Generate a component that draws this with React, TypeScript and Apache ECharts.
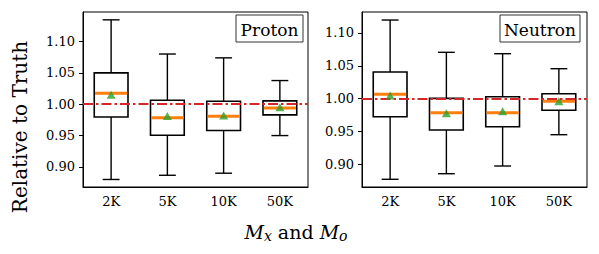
import React, { useEffect, useRef } from 'react';
import * as echarts from 'echarts';

const categories = ['2K', '5K', '10K', '50K'];
// each row: [lower whisker, Q1, median, Q3, upper whisker]
const protonBoxes = [
  [0.880, 0.9797, 1.0176, 1.050, 1.1345],
  [0.8867, 0.9505, 0.9786, 1.0064, 1.080],
  [0.890, 0.958, 0.9808, 1.0048, 1.0739],
  [0.950, 0.983, 0.994, 1.0053, 1.0377],
];
const protonMeans = [1.015, 0.981, 0.982, 0.995];
const neutronBoxes = [
  [0.8775, 0.9726, 1.0067, 1.0406, 1.1196],
  [0.886, 0.9524, 0.9787, 1.0005, 1.0705],
  [0.8977, 0.9574, 0.9787, 1.003, 1.0684],
  [0.9453, 0.9824, 0.996, 1.0076, 1.0456],
];
const neutronMeans = [1.005, 0.978, 0.981, 0.996];
const yTicks = [0.9, 0.95, 1.0, 1.05, 1.1];
const refValue = 1.0;
const panelTitles = ['Proton', 'Neutron'];

const FONT = 'DejaVu Serif';

function boxSeries(boxes: number[][], idx: number) {
  return {
    type: 'custom',
    xAxisIndex: idx,
    yAxisIndex: idx,
    z: 2,
    data: boxes.map((b, i) => [i, ...b]),
    encode: { x: 0, y: [1, 2, 3, 4, 5] },
    renderItem: (params: any, api: any) => {
      const x = api.value(0);
      const pLow = api.coord([x, api.value(1)]);
      const pQ1 = api.coord([x, api.value(2)]);
      const pMed = api.coord([x, api.value(3)]);
      const pQ3 = api.coord([x, api.value(4)]);
      const pHigh = api.coord([x, api.value(5)]);
      const band = api.size([1, 0])[0];
      const bw = band * 0.6;
      const cw = band * 0.3;
      const cx = pLow[0];
      const ls = { stroke: '#000', lineWidth: 1.4, fill: 'none' };
      return {
        type: 'group',
        children: [
          { type: 'line', shape: { x1: cx, y1: pLow[1], x2: cx, y2: pQ1[1] }, style: ls },
          { type: 'line', shape: { x1: cx, y1: pQ3[1], x2: cx, y2: pHigh[1] }, style: ls },
          { type: 'line', shape: { x1: cx - cw / 2, y1: pLow[1], x2: cx + cw / 2, y2: pLow[1] }, style: ls },
          { type: 'line', shape: { x1: cx - cw / 2, y1: pHigh[1], x2: cx + cw / 2, y2: pHigh[1] }, style: ls },
          {
            type: 'rect',
            shape: { x: cx - bw / 2, y: pQ3[1], width: bw, height: pQ1[1] - pQ3[1] },
            style: { stroke: '#000', lineWidth: 1.6, fill: '#fff' },
          },
          {
            type: 'line',
            shape: { x1: cx - bw / 2 + 0.8, y1: pMed[1], x2: cx + bw / 2 - 0.8, y2: pMed[1] },
            style: { stroke: '#ff7f0e', lineWidth: 3 },
          },
        ],
      };
    },
  };
}

function meanSeries(means: number[], idx: number) {
  return {
    type: 'scatter',
    xAxisIndex: idx,
    yAxisIndex: idx,
    z: 5,
    symbol: 'triangle',
    symbolSize: [9, 8],
    itemStyle: { color: '#2ca02c' },
    data: means.map((m, i) => [i, m]),
  };
}

function refSeries(idx: number) {
  return {
    type: 'line',
    xAxisIndex: idx,
    yAxisIndex: idx,
    z: 4,
    data: [],
    markLine: {
      silent: true,
      symbol: 'none',
      label: { show: false },
      lineStyle: { color: '#d62728', width: 2, type: [10, 3, 2.5, 3] },
      data: [{ yAxis: refValue }],
    },
  };
}

function xAxis(idx: number) {
  return {
    type: 'category',
    gridIndex: idx,
    data: categories,
    boundaryGap: true,
    axisLine: { lineStyle: { color: '#000', width: 1 } },
    axisTick: { alignWithLabel: true, length: 4, lineStyle: { color: '#000' } },
    axisLabel: { color: '#000', fontFamily: FONT, fontSize: 13, margin: 8 },
    splitLine: { show: false },
  };
}

function yAxis(idx: number, min: number, max: number) {
  return {
    type: 'value',
    gridIndex: idx,
    min,
    max,
    axisLine: { show: true, lineStyle: { color: '#000', width: 1 } },
    axisTick: { show: true, length: 4, customValues: yTicks, lineStyle: { color: '#000' } },
    axisLabel: {
      color: '#000',
      fontFamily: FONT,
      fontSize: 13,
      margin: 8,
      customValues: yTicks,
      formatter: (v: number) => v.toFixed(2),
    },
    splitLine: { show: false },
  };
}

function titleBox(x: number, y: number, w: number, h: number, text: string) {
  return {
    type: 'group',
    x,
    y,
    z: 10,
    children: [
      { type: 'rect', shape: { x: 0, y: 0, width: w, height: h }, style: { fill: '#fff', stroke: '#333', lineWidth: 1 } },
      {
        type: 'text',
        x: w / 2,
        y: h / 2 + 1,
        style: { text, fontFamily: FONT, fontSize: 17, fill: '#000', align: 'center', verticalAlign: 'middle' },
      },
    ],
  };
}

export default function App() {
  const ref = useRef<HTMLDivElement>(null);
  useEffect(() => {
    if (!ref.current) return;
    const chart = echarts.init(ref.current, null, { renderer: 'svg' });
    chart.setOption({
      animation: false,
      backgroundColor: '#fff',
      grid: [
        { left: 83, top: 12, width: 225, height: 175, show: true, borderColor: '#000', borderWidth: 1, backgroundColor: 'transparent' },
        { left: 362, top: 12, width: 225, height: 175, show: true, borderColor: '#000', borderWidth: 1, backgroundColor: 'transparent' },
      ],
      xAxis: [xAxis(0), xAxis(1)],
      yAxis: [yAxis(0, 0.868, 1.147), yAxis(1, 0.8658, 1.1318)],
      series: [
        boxSeries(protonBoxes, 0),
        refSeries(0),
        meanSeries(protonMeans, 0),
        boxSeries(neutronBoxes, 1),
        refSeries(1),
        meanSeries(neutronMeans, 1),
      ],
      graphic: [
        titleBox(236, 15, 67, 27, panelTitles[0]),
        titleBox(500, 15, 80, 27, panelTitles[1]),
        {
          type: 'text',
          x: 20,
          y: 127,
          rotation: Math.PI / 2,
          style: {
            text: 'Relative to Truth',
            fontFamily: FONT,
            fontSize: 20,
            fill: '#000',
            align: 'center',
            verticalAlign: 'middle',
          },
        },
        {
          type: 'text',
          x: 296,
          y: 232,
          style: {
            text: '{m|M}{s|x}{t| and }{m|M}{s|o}',
            align: 'center',
            verticalAlign: 'middle',
            rich: {
              m: { fontFamily: FONT, fontStyle: 'italic', fontSize: 19, fill: '#000' },
              s: { fontFamily: FONT, fontStyle: 'italic', fontSize: 14, fill: '#000', padding: [8, 0, 0, 0] },
              t: { fontFamily: FONT, fontSize: 19, fill: '#000' },
            },
          },
        },
      ],
    });
    return () => chart.dispose();
  }, []);
  return <div ref={ref} style={{ position: 'absolute', left: 0, top: 0, width: 599, height: 254 }} />;
}
